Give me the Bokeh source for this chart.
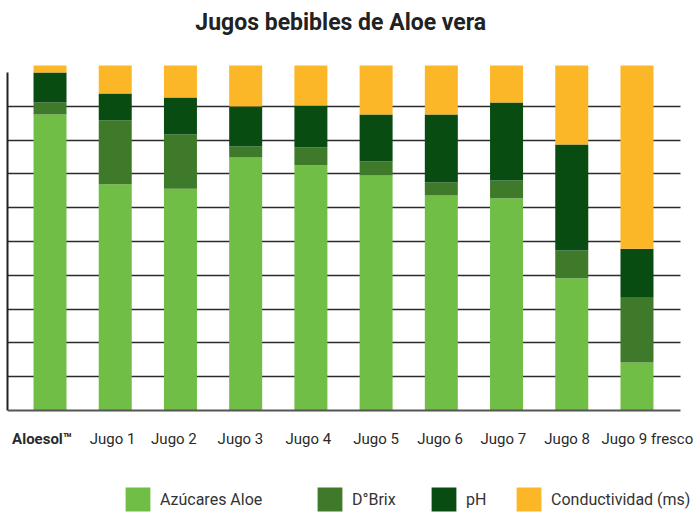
from bokeh.plotting import figure
from bokeh.models import (Range1d, FixedTicker, Legend, LegendItem, ColumnDataSource,
                          LabelSet, Span, Label, BoxAnnotation)
from bokeh.core.properties import value, field
from bokeh.embed import file_html
from bokeh.resources import INLINE

categories = ["Aloesol™", "Jugo 1", "Jugo 2", "Jugo 3", "Jugo 4", "Jugo 5",
              "Jugo 6", "Jugo 7", "Jugo 8", "Jugo 9 fresco"]
azucares = [85.8, 65.6, 64.3, 73.3, 71.1, 68.1, 62.3, 61.5, 38.3, 13.9]
dbrix = [3.5, 18.5, 15.7, 3.2, 5.2, 4.1, 3.8, 5.2, 8.1, 18.8]
ph = [8.7, 7.8, 10.7, 11.6, 12.1, 13.6, 19.7, 22.6, 30.7, 14.2]
conductividad = [2.0, 8.1, 9.3, 11.9, 11.6, 14.2, 14.2, 10.7, 22.9, 53.1]
series_names = ["Azúcares Aloe", "D°Brix", "pH", "Conductividad (ms)"]
label_styles = ["bold"] + ["normal"] * 9
colors = ["#70be46", "#3f7a2a", "#094c12", "#fbb727"]
grid_step = 9.8
label_nudge = [-0.12, -0.04, -0.1, -0.08, -0.04, 0.0, -0.02, -0.05, -0.07, 0.16]
legend_x = [115, 307, 421, 506]

xs = list(range(len(categories)))
source = ColumnDataSource(dict(x=xs, a=azucares, b=dbrix, c=ph, d=conductividad))
lab_src = ColumnDataSource(dict(x=[x + n for x, n in zip(xs, label_nudge)],
                                y=[0] * len(xs), text=categories, style=label_styles))

x_start, grid_end, x_end = -0.652, 9.667, 9.928
p = figure(width=697, height=514, output_backend="svg", toolbar_location=None,
           x_range=Range1d(x_start, x_end), y_range=Range1d(-30.14, 118.84),
           min_border_left=7, min_border_right=0, min_border_top=0,
           min_border_bottom=0)
p.outline_line_color = None

rs = p.vbar_stack(["a", "b", "c", "d"], x="x", width=0.506, color=colors,
                  line_color=None, source=source)

# title
p.add_layout(Label(x=(x_start + grid_end) / 2 - 0.05, y=100, y_offset=43,
                   text="Jugos bebibles de Aloe vera", text_font="Roboto",
                   text_font_size="23px", text_font_style="bold", text_color="#222222",
                   text_align="center", text_baseline="middle"))

# grid
p.xgrid.visible = False
p.ygrid.ticker = FixedTicker(ticks=[grid_step * k for k in range(1, 10)])
p.ygrid.grid_line_color = "#2b2b2b"
p.ygrid.grid_line_width = 1.6

# y axis (line only)
p.yaxis.ticker = FixedTicker(ticks=[])
p.yaxis.bounds = (0, grid_step * 10)
p.yaxis.axis_line_color = "#222222"
p.yaxis.axis_line_width = 2
p.yaxis.major_tick_line_color = None
p.yaxis.minor_tick_line_color = None

# x axis: baseline + labels
p.xaxis.visible = False
p.add_layout(Span(location=0, dimension="width", line_color="#555555", line_width=2))
# keep grid and baseline ending at the plot's right edge
p.add_layout(BoxAnnotation(left=grid_end, bottom=-1.2, top=grid_step * 9.5,
                           fill_color="white", fill_alpha=1, line_color=None))
p.add_layout(LabelSet(x="x", y="y", text="text", source=lab_src, y_offset=-28,
                      text_font=value("Roboto"), text_font_size=value("15px"),
                      text_font_style=field("style"), text_color="#2a2a2a",
                      text_align="center", text_baseline="middle"))

for name, r, lx in zip(series_names, rs, legend_x):
    lg = Legend(items=[LegendItem(label=name, renderers=[r])],
                orientation="horizontal", location=(lx, 0), glyph_width=31, glyph_height=30,
                label_standoff=7, spacing=0, padding=0, margin=0,
                label_text_font="Roboto", label_text_font_size="16px",
                label_text_color="#333333", border_line_color=None,
                background_fill_alpha=0)
    p.add_layout(lg, "center")

open("out.html", "w").write(file_html(p, INLINE))
